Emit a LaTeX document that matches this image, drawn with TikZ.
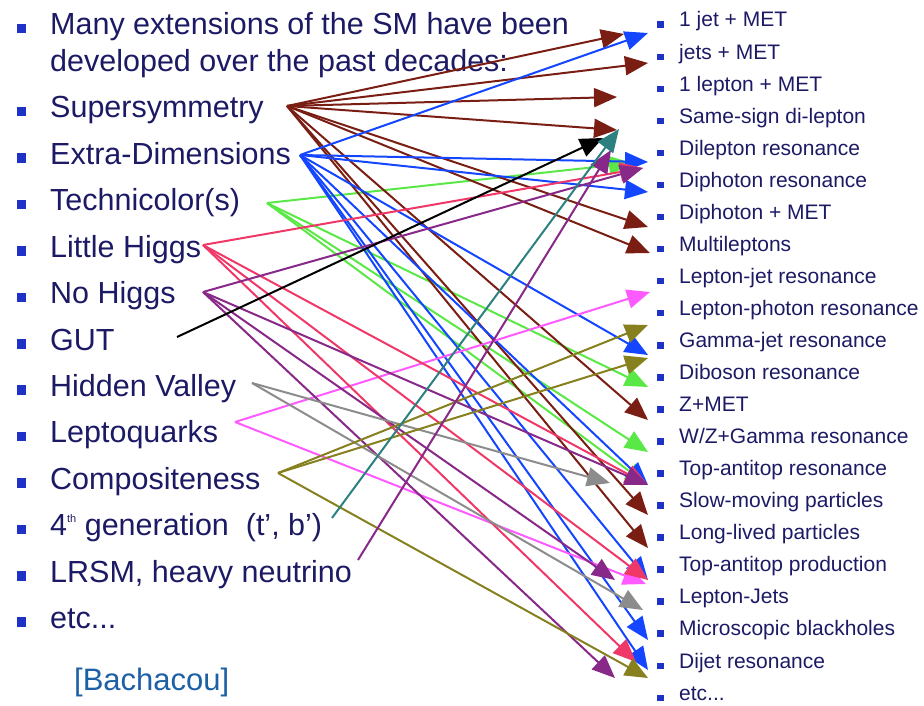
\documentclass[tikz,border=0pt]{standalone}
\usepackage{fontspec}
\setmainfont{Liberation Sans}
\usetikzlibrary{arrows.meta}

\definecolor{txtnavy}{RGB}{28,26,100}
\definecolor{bulblue}{RGB}{30,50,200}
\definecolor{citeblue}{RGB}{30,96,166}
\definecolor{susyred}{RGB}{122,30,20}
\definecolor{xdimblue}{RGB}{20,70,255}
\definecolor{tcgreen}{RGB}{90,232,70}
\definecolor{lhpink}{RGB}{240,56,104}
\definecolor{nhpurple}{RGB}{136,40,136}
\definecolor{hvgray}{RGB}{140,140,140}
\definecolor{lqmagenta}{RGB}{255,90,255}
\definecolor{compolive}{RGB}{134,128,30}
\definecolor{genteal}{RGB}{44,128,128}

\newcommand{\lbul}{\textcolor{bulblue}{\rule[1.5pt]{9.5pt}{9.5pt}}\hspace{24pt}}
\newcommand{\rbul}{\textcolor{bulblue}{\rule[-1pt]{6.5pt}{6.5pt}}\hspace{15.5pt}}

\begin{document}
\begin{tikzpicture}[
    x=1pt, y=-1pt,
    lhs/.style={anchor=base west, inner sep=0pt, text=txtnavy, font=\fontsize{30.5}{37}\selectfont},
    rhs/.style={anchor=base west, inner sep=0pt, text=txtnavy, font=\fontsize{21}{25}\selectfont},
    link/.style={-{Triangle[length=23pt,width=19pt]}, line width=2pt}
  ]
    \useasboundingbox (0,0) rectangle (924,706);

    % models
    \node[lhs] (intro) at (16.5,35) {\lbul\begin{tabular}[t]{@{}l@{}}Many extensions of the SM have been\\developed over the past decades:\end{tabular}};
    \node[lhs] (susy) at (16.5,118) {\lbul Supersymmetry};
    \node[lhs] (xdim) at (16.5,164.4) {\lbul Extra-Dimensions};
    \node[lhs] (techni) at (16.5,210.8) {\lbul Technicolor(s)};
    \node[lhs] (lhiggs) at (16.5,257.2) {\lbul Little Higgs};
    \node[lhs] (nohiggs) at (16.5,303.6) {\lbul No Higgs};
    \node[lhs] (gut) at (16.5,350) {\lbul GUT};
    \node[lhs] (hv) at (16.5,396.4) {\lbul Hidden Valley};
    \node[lhs] (lq) at (16.5,442.8) {\lbul Leptoquarks};
    \node[lhs] (compo) at (16.5,489.2) {\lbul Compositeness};
    \node[lhs] (gen4) at (16.5,535.6) {\lbul 4\raisebox{13pt}{\fontsize{11}{11}\selectfont th} generation\ \ (t', b')};
    \node[lhs] (lrsm) at (16.5,582) {\lbul LRSM, heavy neutrino};
    \node[lhs] (etcl) at (16.5,628.4) {\lbul etc...};
    \node[lhs, text=citeblue, font=\fontsize{31}{37}\selectfont] (cite) at (74,690) {[Bachacou]};

    % signatures
    \node[rhs] (jetmet) at (657,27) {\rbul 1 jet + MET};
    \node[rhs] (jetsmet) at (657,59.05) {\rbul jets + MET};
    \node[rhs] (lepmet) at (657,91.1) {\rbul 1 lepton + MET};
    \node[rhs] (sslep) at (657,123.15) {\rbul Same-sign di-lepton};
    \node[rhs] (dilep) at (657,155.2) {\rbul Dilepton resonance};
    \node[rhs] (diphot) at (657,187.25) {\rbul Diphoton resonance};
    \node[rhs] (diphmet) at (657,219.3) {\rbul Diphoton + MET};
    \node[rhs] (multilep) at (657,251.35) {\rbul Multileptons};
    \node[rhs] (lepjet) at (657,283.4) {\rbul Lepton-jet resonance};
    \node[rhs] (lepphot) at (657,315.45) {\rbul Lepton-photon resonance};
    \node[rhs] (gamjet) at (657,347.5) {\rbul Gamma-jet resonance};
    \node[rhs] (diboson) at (657,379.55) {\rbul Diboson resonance};
    \node[rhs] (zmet) at (657,411.6) {\rbul Z+MET};
    \node[rhs] (wzgam) at (657,443.65) {\rbul W/Z+Gamma resonance};
    \node[rhs] (ttres) at (657,475.7) {\rbul Top-antitop resonance};
    \node[rhs] (slow) at (657,507.75) {\rbul Slow-moving particles};
    \node[rhs] (longlived) at (657,539.8) {\rbul Long-lived particles};
    \node[rhs] (ttprod) at (657,571.85) {\rbul Top-antitop production};
    \node[rhs] (lepjets) at (657,603.9) {\rbul Lepton-Jets};
    \node[rhs] (blackholes) at (657,635.95) {\rbul Microscopic blackholes};
    \node[rhs] (dijet) at (657,668) {\rbul Dijet resonance};
    \node[rhs] (etcr) at (657,700.05) {\rbul etc...};

    % arrow start points
    \coordinate (s-susy) at (287,106);
    \coordinate (s-xdim) at (300,155);
    \coordinate (s-techni) at (267,203);
    \coordinate (s-lhiggs) at (203,245);
    \coordinate (s-nohiggs) at (203,292);
    \coordinate (s-gut) at (177,337);
    \coordinate (s-hv) at (252,383);
    \coordinate (s-lq) at (235,422);
    \coordinate (s-compo) at (278,473);
    \coordinate (s-gen4) at (332,518);
    \coordinate (s-lrsm) at (358,560);

    % arrow tips
    \coordinate (jetmet-a) at (648,33);
    \coordinate (jetmet-b) at (624,34);
    \coordinate (jetsmet-a) at (648,63);
    \coordinate (lepmet-a) at (617,97);
    \coordinate (sslep-a) at (617,130);
    \coordinate (sslep-b) at (603,138);
    \coordinate (sslep-c) at (611,150);
    \coordinate (sslep-d) at (619,129);
    \coordinate (dilep-a) at (648,162);
    \coordinate (dilep-b) at (632,163);
    \coordinate (diphot-a) at (643,168);
    \coordinate (diphot-b) at (648,192);
    \coordinate (diphmet-a) at (648,227);
    \coordinate (multilep-a) at (650,253);
    \coordinate (lepphot-a) at (650,292);
    \coordinate (gamjet-a) at (648,325);
    \coordinate (gamjet-b) at (648,355);
    \coordinate (gamjet-c) at (648,358);
    \coordinate (diboson-a) at (648,387);
    \coordinate (zmet-a) at (648,420);
    \coordinate (wzgam-a) at (648,452);
    \coordinate (ttres-a) at (648,485);
    \coordinate (ttres-b) at (610,483);
    \coordinate (slow-a) at (648,515);
    \coordinate (longlived-a) at (648,548);
    \coordinate (ttprod-a) at (648,580);
    \coordinate (ttprod-b) at (646,584);
    \coordinate (ttprod-c) at (615,580);
    \coordinate (lepjets-a) at (643,610);
    \coordinate (blackholes-a) at (648,640);
    \coordinate (dijet-a) at (648,670);
    \coordinate (dijet-b) at (648,678);
    \coordinate (dijet-c) at (615,678);
    \coordinate (dijet-d) at (636,662);

    % Technicolor
    \draw[link, tcgreen] (s-techni) -- (dilep-b);
    \draw[link, tcgreen] (s-techni) -- (diboson-a);
    \draw[link, tcgreen] (s-techni) -- (wzgam-a);
    \draw[link, tcgreen] (s-techni) -- (ttres-a);
    % Supersymmetry
    \draw[link, susyred] (s-susy) -- (jetmet-b);
    \draw[link, susyred] (s-susy) -- (jetsmet-a);
    \draw[link, susyred] (s-susy) -- (lepmet-a);
    \draw[link, susyred] (s-susy) -- (sslep-a);
    \draw[link, susyred] (s-susy) -- (diphmet-a);
    \draw[link, susyred] (s-susy) -- (multilep-a);
    \draw[link, susyred] (s-susy) -- (zmet-a);
    \draw[link, susyred] (s-susy) -- (slow-a);
    \draw[link, susyred] (s-susy) -- (longlived-a);
    % Extra-Dimensions
    \draw[link, xdimblue] (s-xdim) -- (jetmet-a);
    \draw[link, xdimblue] (s-xdim) -- (dilep-a);
    \draw[link, xdimblue] (s-xdim) -- (diphot-b);
    \draw[link, xdimblue] (s-xdim) -- (gamjet-b);
    \draw[link, xdimblue] (s-xdim) -- (ttres-a);
    \draw[link, xdimblue] (s-xdim) -- (ttprod-a);
    \draw[link, xdimblue] (s-xdim) -- (blackholes-a);
    \draw[link, xdimblue] (s-xdim) -- (dijet-a);
    % Leptoquarks
    \draw[link, lqmagenta] (s-lq) -- (lepphot-a);
    \draw[link, lqmagenta] (s-lq) -- (ttprod-b);
    % Little Higgs
    \draw[link, lhpink] (s-lhiggs) -- (diphot-a);
    \draw[link, lhpink] (s-lhiggs) -- (ttres-a);
    \draw[link, lhpink] (s-lhiggs) -- (ttprod-a);
    \draw[link, lhpink] (s-lhiggs) -- (dijet-d);
    % No Higgs
    \draw[link, nhpurple] (s-nohiggs) -- (diphot-a);
    \draw[link, nhpurple] (s-nohiggs) -- (ttres-a);
    \draw[link, nhpurple] (s-nohiggs) -- (ttprod-c);
    \draw[link, nhpurple] (s-nohiggs) -- (dijet-c);
    % Hidden Valley
    \draw[link, hvgray] (s-hv) -- (ttres-b);
    \draw[link, hvgray] (s-hv) -- (lepjets-a);
    % Compositeness
    \draw[link, compolive] (s-compo) -- (gamjet-a);
    \draw[link, compolive] (s-compo) -- (gamjet-c);
    \draw[link, compolive] (s-compo) -- (dijet-b);
    % GUT, LRSM, 4th generation
    \draw[link, black] (s-gut) -- (sslep-b);
    \draw[link, nhpurple] (s-lrsm) -- (sslep-c);
    \draw[link, genteal] (s-gen4) -- (sslep-d);
  \end{tikzpicture}
\end{document}
